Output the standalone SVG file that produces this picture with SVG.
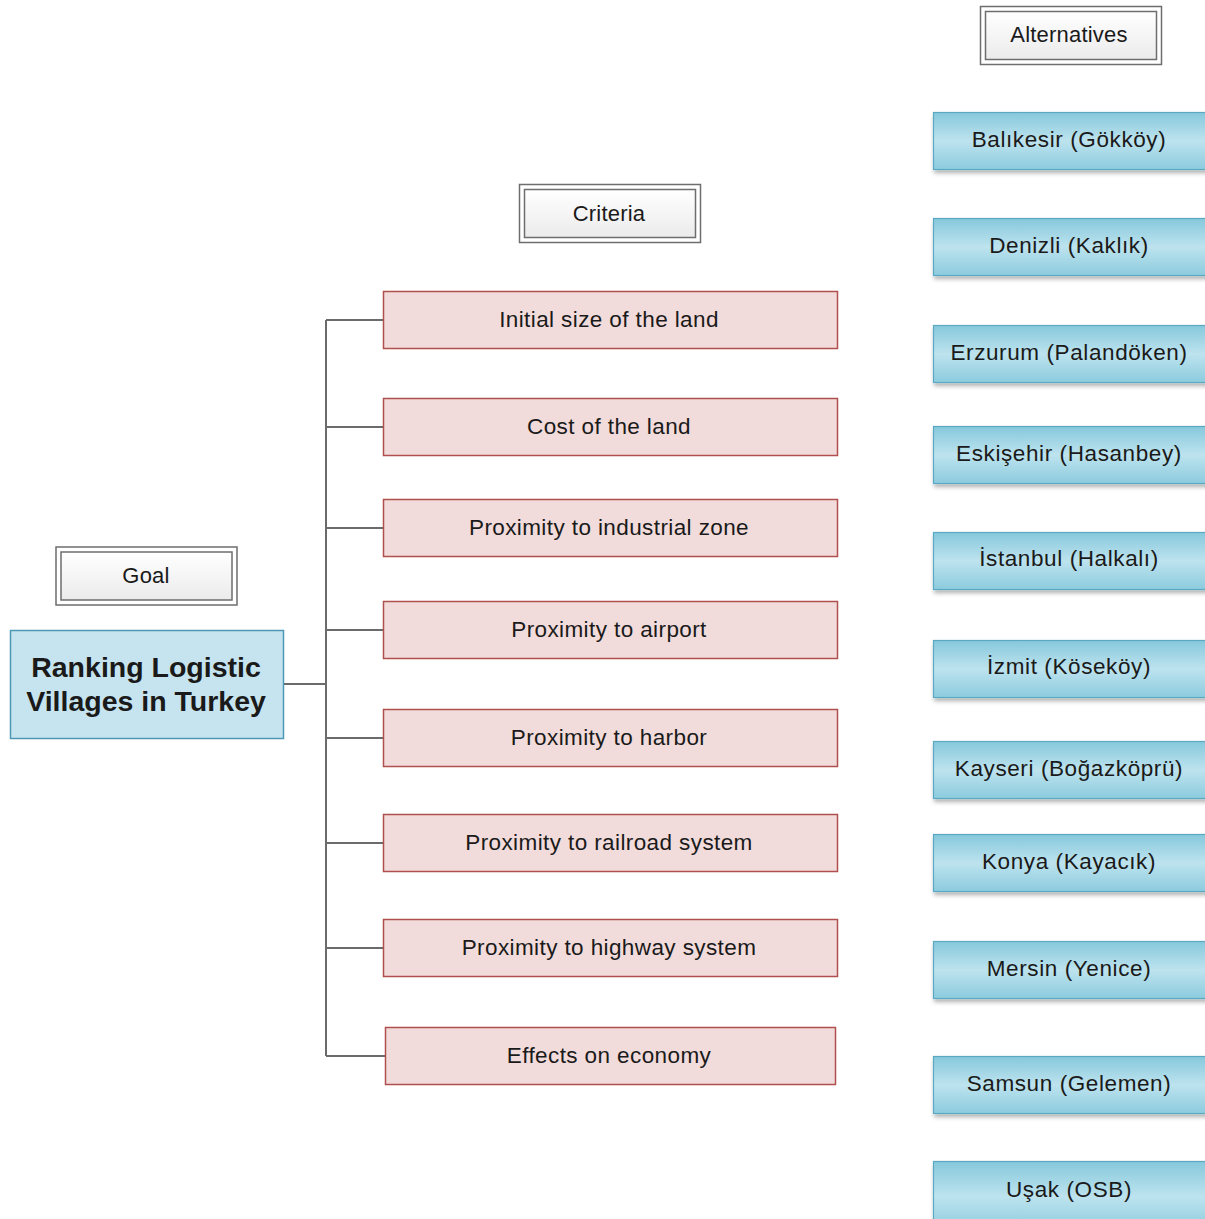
<svg xmlns="http://www.w3.org/2000/svg" width="1205" height="1219" viewBox="0 0 1205 1219">
<style>
text{font-family:"Liberation Sans",Arial,sans-serif;fill:#1a1a1a;text-anchor:middle;dominant-baseline:central}
.lbl-o{fill:#ffffff;stroke:#6e6e6e;stroke-width:1.5}
.lbl-i{fill:url(#lblg);stroke:#6e6e6e;stroke-width:1.5}
.lbl{font-size:22px;letter-spacing:0.2px}
.crit{fill:#f2dcdb;stroke:#b0504e;stroke-width:1.5}
.ct{font-size:22.5px;letter-spacing:0.4px}
.alt{fill:url(#altg);stroke:#5aa8c2;stroke-width:1.2}
.at{font-size:22.5px;letter-spacing:0.6px}
.goal{fill:#c6e4ef;stroke:#4f98b5;stroke-width:1.5}
.gt{font-size:28.5px;font-weight:bold}
.conn{stroke:#6b6b6b;stroke-width:2;fill:none}
</style>
<defs>
<linearGradient id="lblg" x1="0" y1="0" x2="0" y2="1">
<stop offset="0" stop-color="#ffffff"/>
<stop offset="1" stop-color="#ebebeb"/>
</linearGradient>
<linearGradient id="altg" x1="0" y1="0" x2="0" y2="1">
<stop offset="0" stop-color="#86c8dc"/>
<stop offset="0.5" stop-color="#bde3ee"/>
<stop offset="1" stop-color="#8ccbde"/>
</linearGradient>
<filter id="sh" x="-5%" y="-10%" width="115%" height="140%">
<feDropShadow dx="1" dy="3" stdDeviation="2" flood-color="#000" flood-opacity="0.3"/>
</filter>
</defs>

<g id="connectors">
<line class="conn" x1="283" y1="684" x2="326" y2="684"/>
<line class="conn" x1="326" y1="320" x2="326" y2="1056"/>
<line class="conn" x1="326" y1="320" x2="383" y2="320"/>
<line class="conn" x1="326" y1="427" x2="383" y2="427"/>
<line class="conn" x1="326" y1="528" x2="383" y2="528"/>
<line class="conn" x1="326" y1="630" x2="383" y2="630"/>
<line class="conn" x1="326" y1="738" x2="383" y2="738"/>
<line class="conn" x1="326" y1="843" x2="383" y2="843"/>
<line class="conn" x1="326" y1="948" x2="383" y2="948"/>
<line class="conn" x1="326" y1="1056" x2="385" y2="1056"/>
</g>

<g id="label-goal">
<rect class="lbl-o" x="56" y="547" width="181" height="58"/>
<rect class="lbl-i" x="61" y="552" width="171" height="48"/>
<text class="lbl" x="146" y="575">Goal</text>
</g>
<g id="label-criteria">
<rect class="lbl-o" x="519.5" y="184.5" width="181" height="58"/>
<rect class="lbl-i" x="524.5" y="189.5" width="171" height="48"/>
<text class="lbl" x="609" y="213">Criteria</text>
</g>
<g id="label-alternatives">
<rect class="lbl-o" x="980.5" y="6.5" width="181" height="58"/>
<rect class="lbl-i" x="985.5" y="11.5" width="171" height="48"/>
<text class="lbl" x="1069" y="34">Alternatives</text>
</g>

<g id="goal">
<rect class="goal" x="10.5" y="630.5" width="273" height="108"/>
<text class="gt" x="146" y="667">Ranking Logistic</text>
<text class="gt" x="146" y="701">Villages in Turkey</text>
</g>

<g id="c1"><rect class="crit" x="383.5" y="291.5" width="454" height="57"/><text class="ct" x="609" y="319">Initial size of the land</text></g>
<g id="c2"><rect class="crit" x="383.5" y="398.5" width="454" height="57"/><text class="ct" x="609" y="426">Cost of the land</text></g>
<g id="c3"><rect class="crit" x="383.5" y="499.5" width="454" height="57"/><text class="ct" x="609" y="527">Proximity to industrial zone</text></g>
<g id="c4"><rect class="crit" x="383.5" y="601.5" width="454" height="57"/><text class="ct" x="609" y="629">Proximity to airport</text></g>
<g id="c5"><rect class="crit" x="383.5" y="709.5" width="454" height="57"/><text class="ct" x="609" y="737">Proximity to harbor</text></g>
<g id="c6"><rect class="crit" x="383.5" y="814.5" width="454" height="57"/><text class="ct" x="609" y="842">Proximity to railroad system</text></g>
<g id="c7"><rect class="crit" x="383.5" y="919.5" width="454" height="57"/><text class="ct" x="609" y="947">Proximity to highway system</text></g>
<g id="c8"><rect class="crit" x="385.5" y="1027.5" width="450" height="57"/><text class="ct" x="609" y="1055">Effects on economy</text></g>

<g id="a1"><rect class="alt" filter="url(#sh)" x="933.5" y="112.5" width="280" height="57"/><text class="at" x="1069" y="139">Balıkesir (Gökköy)</text></g>
<g id="a2"><rect class="alt" filter="url(#sh)" x="933.5" y="218.5" width="280" height="57"/><text class="at" x="1069" y="245">Denizli (Kaklık)</text></g>
<g id="a3"><rect class="alt" filter="url(#sh)" x="933.5" y="325.5" width="280" height="57"/><text class="at" x="1069" y="352">Erzurum (Palandöken)</text></g>
<g id="a4"><rect class="alt" filter="url(#sh)" x="933.5" y="426.5" width="280" height="57"/><text class="at" x="1069" y="453">Eskişehir (Hasanbey)</text></g>
<g id="a5"><rect class="alt" filter="url(#sh)" x="933.5" y="532.5" width="280" height="57"/><text class="at" x="1069" y="558">İstanbul (Halkalı)</text></g>
<g id="a6"><rect class="alt" filter="url(#sh)" x="933.5" y="640.5" width="280" height="57"/><text class="at" x="1069" y="666">İzmit (Köseköy)</text></g>
<g id="a7"><rect class="alt" filter="url(#sh)" x="933.5" y="741.5" width="280" height="57"/><text class="at" x="1069" y="768">Kayseri (Boğazköprü)</text></g>
<g id="a8"><rect class="alt" filter="url(#sh)" x="933.5" y="834.5" width="280" height="57"/><text class="at" x="1069" y="861">Konya (Kayacık)</text></g>
<g id="a9"><rect class="alt" filter="url(#sh)" x="933.5" y="941.5" width="280" height="57"/><text class="at" x="1069" y="968">Mersin (Yenice)</text></g>
<g id="a10"><rect class="alt" filter="url(#sh)" x="933.5" y="1056.5" width="280" height="57"/><text class="at" x="1069" y="1083">Samsun (Gelemen)</text></g>
<g id="a11"><rect class="alt" filter="url(#sh)" x="933.5" y="1161.5" width="280" height="70"/><text class="at" x="1069" y="1189">Uşak (OSB)</text></g>
</svg>
